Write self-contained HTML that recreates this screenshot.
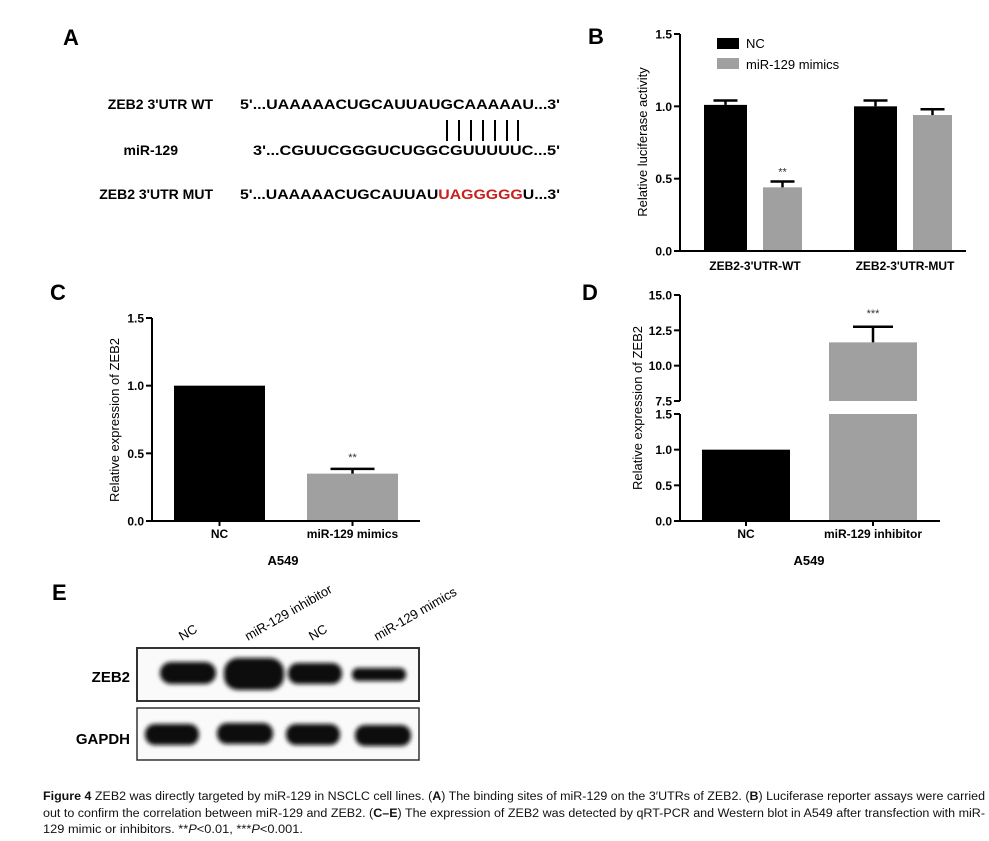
<!DOCTYPE html>
<html><head><meta charset="utf-8"><style>
body{margin:0;background:#fff}
svg{display:block;font-family:"Liberation Sans",Arial,sans-serif}
.b{font-weight:bold}
</style></head><body>
<svg id="fig" width="989" height="841" viewBox="0 0 989 841">
<g>
<text x="63" y="45" class="b" font-size="22">A</text>
<text x="213" y="109" class="b" font-size="14" text-anchor="end">ZEB2 3'UTR WT</text>
<text x="240" y="109" class="b" font-size="14" textLength="320" lengthAdjust="spacingAndGlyphs">5'...UAAAAACUGCAUUAUGCAAAAAU...3'</text>
<g stroke="#000" stroke-width="2">
<line x1="447" y1="120" x2="447" y2="141"/><line x1="459" y1="120" x2="459" y2="141"/><line x1="471" y1="120" x2="471" y2="141"/><line x1="483" y1="120" x2="483" y2="141"/><line x1="495" y1="120" x2="495" y2="141"/><line x1="507" y1="120" x2="507" y2="141"/><line x1="518" y1="120" x2="518" y2="141"/>
</g>
<text x="178" y="155" class="b" font-size="14" text-anchor="end">miR-129</text>
<text x="253" y="155" class="b" font-size="14" textLength="307" lengthAdjust="spacingAndGlyphs">3'...CGUUCGGGUCUGGCGUUUUUC...5'</text>
<text x="213" y="199" class="b" font-size="14" text-anchor="end">ZEB2 3'UTR MUT</text>
<text x="240" y="199" class="b" font-size="14" textLength="320" lengthAdjust="spacingAndGlyphs">5'...UAAAAACUGCAUUAU<tspan fill="#c8201e">UAGGGGG</tspan>U...3'</text>
</g>
<g id="pb">
<text x="588" y="44" class="b" font-size="22">B</text>
<rect x="717" y="38" width="22" height="11" fill="#000"/>
<text x="746" y="48" font-size="13">NC</text>
<rect x="717" y="58" width="22" height="11" fill="#a0a0a0"/>
<text x="746" y="69" font-size="13">miR-129  mimics</text>
<text transform="translate(647,142) rotate(-90)" font-size="13" text-anchor="middle">Relative luciferase activity</text>
</g>
<g id="pc">
<text x="50" y="300" class="b" font-size="22">C</text>
<text transform="translate(119,420) rotate(-90)" font-size="13" text-anchor="middle">Relative expression of ZEB2</text>
<text x="283" y="565" class="b" font-size="13" text-anchor="middle">A549</text>
</g>
<g id="pd">
<text x="582" y="300" class="b" font-size="22">D</text>
<text transform="translate(642,408) rotate(-90)" font-size="13" text-anchor="middle">Relative expression of ZEB2</text>
<text x="809" y="565" class="b" font-size="13" text-anchor="middle">A549</text>
</g>
<g>
<defs><filter id="bl" x="-20%" y="-50%" width="140%" height="200%"><feGaussianBlur stdDeviation="2"/></filter></defs>
<text x="52" y="600" class="b" font-size="22">E</text>
<g font-size="13">
<text transform="translate(182,641) rotate(-30)">NC</text>
<text transform="translate(248,641) rotate(-30)">miR-129 inhibitor</text>
<text transform="translate(312,641) rotate(-30)">NC</text>
<text transform="translate(377,641) rotate(-30)">miR-129  mimics</text>
</g>
<text x="130" y="682" class="b" font-size="15" text-anchor="end">ZEB2</text>
<text x="130" y="744" class="b" font-size="15" text-anchor="end">GAPDH</text>
<rect x="137" y="648" width="282" height="53" fill="#fafafa" stroke="#333" stroke-width="2"/>
<rect x="137" y="708" width="282" height="52" fill="#fafafa" stroke="#333" stroke-width="1.5"/>
<g fill="#0a0a0a" filter="url(#bl)">
<rect x="160" y="662" width="56" height="22" rx="11"/>
<rect x="224" y="658" width="60" height="32" rx="14"/>
<rect x="288" y="663" width="54" height="21" rx="10"/>
<rect x="352" y="668" width="54" height="13" rx="6"/>
<rect x="145" y="724" width="54" height="21" rx="10"/>
<rect x="217" y="723" width="56" height="21" rx="10"/>
<rect x="286" y="724" width="54" height="21" rx="10"/>
<rect x="355" y="725" width="56" height="21" rx="10"/>
</g>
</g>
<g font-size="11.5" fill="#111">
<text x="43" y="800" textLength="942" lengthAdjust="spacingAndGlyphs"><tspan class="b">Figure 4</tspan> ZEB2 was directly targeted by miR-129 in NSCLC cell lines. (<tspan class="b">A</tspan>) The binding sites of miR-129 on the 3′UTRs of ZEB2. (<tspan class="b">B</tspan>) Luciferase reporter assays were carried</text>
<text x="43" y="817" textLength="942" lengthAdjust="spacingAndGlyphs">out to confirm the correlation between miR-129 and ZEB2. (<tspan class="b">C–E</tspan>) The expression of ZEB2 was detected by qRT-PCR and Western blot in A549 after transfection with miR-</text>
<text x="43" y="833" textLength="260" lengthAdjust="spacingAndGlyphs">129 mimic or inhibitors. **<tspan font-style="italic">P</tspan>&lt;0.01, ***<tspan font-style="italic">P</tspan>&lt;0.001.</text>
</g>
</svg>
<script>
const bGroups = ["ZEB2-3'UTR-WT", "ZEB2-3'UTR-MUT"];
const bNC = [1.01, 1.0];
const bNCerr = [0.03, 0.04];
const bMim = [0.44, 0.94];
const bMimErr = [0.04, 0.04];
const bTicks = [0.0, 0.5, 1.0, 1.5];
const cCats = ["NC", "miR-129  mimics"];
const cVals = [1.0, 0.35];
const cErr = [0, 0.035];
const cTicks = [0.0, 0.5, 1.0, 1.5];
const dCats = ["NC", "miR-129 inhibitor"];
const dVals = [1.0, 11.65];
const dErr = [0, 1.1];
const dTicksLow = [0.0, 0.5, 1.0, 1.5];
const dTicksHigh = [7.5, 10.0, 12.5, 15.0];

const NS = "http://www.w3.org/2000/svg";
function mk(parent, tag, attrs, txt) {
  const e = document.createElementNS(NS, tag);
  for (const k in attrs) e.setAttribute(k, attrs[k]);
  if (txt !== undefined) e.textContent = txt;
  parent.appendChild(e);
  return e;
}
function line(p, x1, y1, x2, y2, w) {
  return mk(p, "line", {x1, y1, x2, y2, stroke: "#000", "stroke-width": w || 2});
}
function yTicks(p, ax, ticks, y) {
  ticks.forEach(t => {
    const l = line(p, ax - 6, y(t), ax, y(t));
    
    
    const tx = mk(p, "text", {x: ax - 8, y: y(t) + 4.5, "text-anchor": "end", "font-size": 12, "font-weight": "bold"}, t.toFixed(1));
    
    
  });
}
function bar(p, x0, x1, y0, yv, fill, name) {
  const r = mk(p, "rect", {x: x0, y: Math.min(y0, yv), width: x1 - x0, height: Math.abs(y0 - yv), fill});
  
  
  return r;
}
function errBar(p, xc, yTop, yErr, half, name) {
  const g = mk(p, "g", {});
  
  
  line(g, xc, yTop, xc, yErr, 2.5);
  line(g, xc - half, yErr, xc + half, yErr, 2.5);
}
function star(p, xc, y, s) {
  const t = mk(p, "text", {x: xc, y, "text-anchor": "middle", "font-size": 11, fill: "#333"}, s);
  
  
}

(function () {
  const p = document.getElementById("pb");
  const ax = 680, y0 = 251, yT = 34;
  const y = v => y0 - (v / 1.5) * (y0 - yT);
  const ncX = [704, 854], w = 43, gap = 16;
  bNC.forEach((v, i) => {
    bar(p, ncX[i], ncX[i] + w, y0, y(v), "#000", "bar-nc-" + i);
    errBar(p, ncX[i] + w / 2, y(v), y(v + bNCerr[i]), 12, "error-nc-" + i);
    const mx = ncX[i] + w + gap;
    bar(p, mx, mx + 39, y0, y(bMim[i]), "#a0a0a0", "bar-mimics-" + i);
    errBar(p, mx + 19.5, y(bMim[i]), y(bMim[i] + bMimErr[i]), 12, "error-mimics-" + i);
    if (bMim[i] < 0.6) star(p, mx + 19.5, y(bMim[i] + bMimErr[i]) - 6, "**");
    const lab = mk(p, "text", {x: ncX[i] + w + gap / 2, y: 270, "text-anchor": "middle", "font-size": 12, "font-weight": "bold"}, bGroups[i]);
    
    
  });
  const ya = line(p, ax, y0, ax, yT);
  
  
  const xa = line(p, ax, y0, 966, y0);
  
  
  yTicks(p, ax, bTicks, y);
})();

(function () {
  const p = document.getElementById("pc");
  const ax = 152, y0 = 521, yT = 318;
  const y = v => y0 - (v / 1.5) * (y0 - yT);
  const xs = [174, 307], w = 91;
  const fills = ["#000", "#a0a0a0"];
  cVals.forEach((v, i) => {
    bar(p, xs[i], xs[i] + w, y0, y(v), fills[i], "bar-c-" + i);
    if (cErr[i] > 0) {
      errBar(p, xs[i] + w / 2, y(v), y(v + cErr[i]), 22, "error-c-" + i);
      star(p, xs[i] + w / 2, y(v + cErr[i]) - 8, "**");
    }
    const tk = line(p, xs[i] + w / 2, y0, xs[i] + w / 2, y0 + 5);
    
    
    const lab = mk(p, "text", {x: xs[i] + w / 2, y: 538, "text-anchor": "middle", "font-size": 12, "font-weight": "bold"}, cCats[i]);
    
    
  });
  const ya = line(p, ax, y0, ax, yT);
  
  
  const xa = line(p, ax, y0, 420, y0);
  
  
  yTicks(p, ax, cTicks, y);
})();

(function () {
  const p = document.getElementById("pd");
  const ax = 680, y0 = 521, yL = 414, yB = 401, yT = 295;
  const yLow = v => y0 - (v / 1.5) * (y0 - yL);
  const yHigh = v => yB - ((v - 7.5) / 7.5) * (yB - yT);
  const xs = [702, 829], w = 88;
  const fills = ["#000", "#a0a0a0"];
  dVals.forEach((v, i) => {
    if (v <= 1.5) {
      bar(p, xs[i], xs[i] + w, y0, yLow(v), fills[i], "bar-d-" + i);
    } else {
      bar(p, xs[i], xs[i] + w, y0, yL, fills[i], "bar-d-low-" + i);
      bar(p, xs[i], xs[i] + w, yB, yHigh(v), fills[i], "bar-d-high-" + i);
      if (dErr[i] > 0) {
        errBar(p, xs[i] + w / 2, yHigh(v), yHigh(v + dErr[i]), 20, "error-d-" + i);
        star(p, xs[i] + w / 2, yHigh(v + dErr[i]) - 10, "***");
      }
    }
    const tk = line(p, xs[i] + w / 2, y0, xs[i] + w / 2, y0 + 5);
    
    
    const lab = mk(p, "text", {x: xs[i] + w / 2, y: 538, "text-anchor": "middle", "font-size": 12, "font-weight": "bold"}, dCats[i]);
    
    
  });
  const ya1 = line(p, ax, y0, ax, yL);
  
  
  const ya2 = line(p, ax, yB, ax, yT);
  
  
  const xa = line(p, ax, y0, 940, y0);
  
  
  yTicks(p, ax, dTicksLow, yLow);
  yTicks(p, ax, dTicksHigh, yHigh);
})();
</script>
</body></html>
